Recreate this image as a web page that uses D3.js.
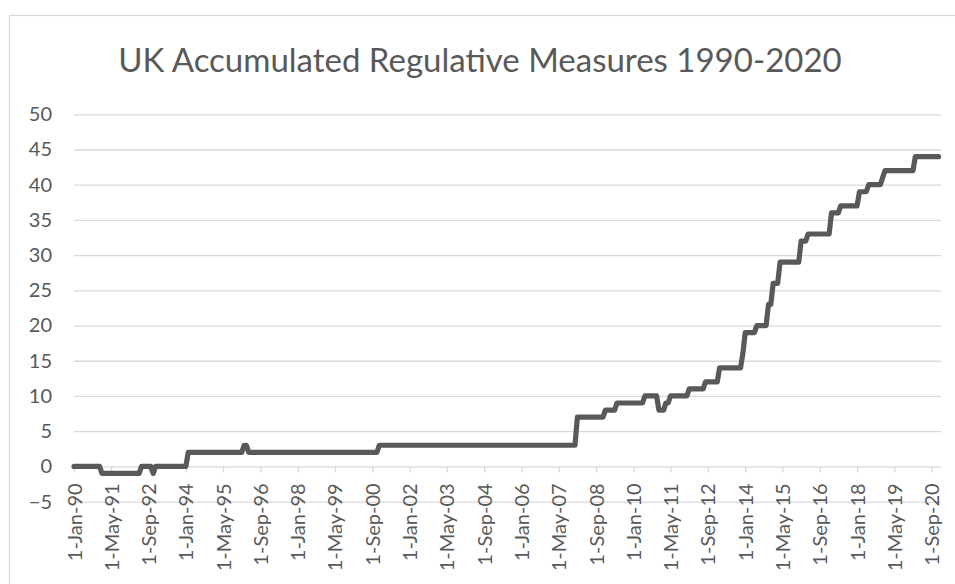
<!DOCTYPE html>
<html>
<head>
<meta charset="utf-8">
<script src="https://cdn.jsdelivr.net/npm/d3@7"></script>
<style>
  body { margin: 0; background: #fff; }
  svg { display: block; font-family: Lato, "Open Sans", sans-serif; }
</style>
</head>
<body>
<div id="chart"></div>
<script>
// data: months where the step series changes
var months = [
  "1990-01", "1990-12", "1991-01", "1992-05", "1992-06", "1992-10", "1992-11", "1992-12",
  "1994-01", "1994-02", "1996-01", "1996-02", "1996-03", "1996-04", "2000-11", "2000-12",
  "2007-12", "2008-01", "2008-12", "2009-01", "2009-05", "2009-06", "2010-05", "2010-06",
  "2010-11", "2010-12", "2011-02", "2011-03", "2011-04", "2011-05", "2011-12", "2012-01",
  "2012-07", "2012-08", "2013-01", "2013-02", "2013-11", "2013-12", "2014-01", "2014-05",
  "2014-06", "2014-10", "2014-11", "2014-12", "2015-01", "2015-03", "2015-04", "2015-12",
  "2016-01", "2016-03", "2016-04", "2017-01", "2017-02", "2017-05", "2017-06", "2018-01",
  "2018-02", "2018-05", "2018-06", "2018-11", "2018-12", "2019-01", "2020-01", "2020-02",
  "2020-12"
];
var values = [
  0, 0, -1, -1, 0, 0, -1, 0,
  0, 2, 2, 3, 3, 2, 2, 3,
  3, 7, 7, 8, 8, 9, 9, 10,
  10, 8, 8, 9, 9, 10, 10, 11,
  11, 12, 12, 14, 14, 16, 19, 19,
  20, 20, 23, 23, 26, 26, 29, 29,
  32, 32, 33, 33, 36, 36, 37, 37,
  39, 39, 40, 40, 41, 42, 42, 44,
  44
];

var tickLabels = ["1-Jan-90", "1-May-91", "1-Sep-92", "1-Jan-94", "1-May-95", "1-Sep-96",
  "1-Jan-98", "1-May-99", "1-Sep-00", "1-Jan-02", "1-May-03", "1-Sep-04", "1-Jan-06",
  "1-May-07", "1-Sep-08", "1-Jan-10", "1-May-11", "1-Sep-12", "1-Jan-14", "1-May-15",
  "1-Sep-16", "1-Jan-18", "1-May-19", "1-Sep-20"];
var yTicks = [-5, 0, 5, 10, 15, 20, 25, 30, 35, 40, 45, 50];
var title = "UK Accumulated Regulative Measures 1990-2020";

var width = 955, height = 584;
var margin = {top: 114.3, right: 14, bottom: 82.4, left: 74};
var textColor = "#595959", gridColor = "#d9d9d9";

var parseMonth = d3.timeParse("%Y-%m");
var parseTick = d3.timeParse("%d-%b-%y");
var data = months.map((m, i) => ({date: parseMonth(m), value: values[i]}));

var svg = d3.select("#chart").append("svg")
  .attr("width", width)
  .attr("height", height);

// chart frame
svg.append("rect")
  .attr("x", 9.5).attr("y", 15.5)
  .attr("width", 960).attr("height", 600)
  .attr("fill", "#fff")
  .attr("stroke", gridColor)
  .attr("stroke-width", 1.3);

var x = d3.scaleTime()
  .domain([new Date(1990, 0, 1), new Date(2021, 0, 1)])
  .range([margin.left, width - margin.right]);

var y = d3.scaleLinear()
  .domain([-5, 50])
  .range([height - margin.bottom, margin.top]);

// title
svg.append("text")
  .attr("x", 480).attr("y", 72)
  .attr("text-anchor", "middle")
  .attr("font-size", 33)
  .attr("font-weight", 400)
  .attr("fill", textColor)
  .text(title);

// gridlines + y labels
var yAxis = g => g
  .attr("transform", `translate(${margin.left},0)`)
  .call(d3.axisLeft(y).tickValues(yTicks).tickSize(-(width - margin.right - margin.left)).tickPadding(22))
  .call(g => g.select(".domain").remove())
  .call(g => g.selectAll(".tick line").attr("stroke", gridColor).attr("stroke-width", 1.3))
  .call(g => g.selectAll(".tick text")
    .attr("fill", textColor)
    .attr("font-size", 20)
    .attr("font-family", "Lato, sans-serif"));

svg.append("g").call(yAxis);

// category axis sits on the zero line
var xAxis = g => g
  .attr("transform", `translate(0,${y(0)})`)
  .call(d3.axisBottom(x).tickValues(tickLabels.map(parseTick)).tickSize(6).tickFormat((d, i) => tickLabels[i]))
  .call(g => g.select(".domain").remove())
  .call(g => g.selectAll(".tick line").attr("stroke", gridColor).attr("stroke-width", 1.3))
  .call(g => g.selectAll(".tick text")
    .attr("fill", textColor)
    .attr("font-size", 20)
    .attr("font-family", "Lato, sans-serif")
    .attr("text-anchor", "end")
    .attr("transform", "translate(0,17) rotate(-90)")
    .attr("x", 0).attr("y", 0).attr("dy", "0.35em"));

svg.append("g").call(xAxis);

var line = d3.line()
  .x(d => x(d.date))
  .y(d => y(d.value));

svg.append("path")
  .datum(data)
  .attr("d", line)
  .attr("fill", "none")
  .attr("stroke", "#595959")
  .attr("stroke-width", 5.2)
  .attr("stroke-linejoin", "round")
  .attr("stroke-linecap", "round");
</script>
</body>
</html>
